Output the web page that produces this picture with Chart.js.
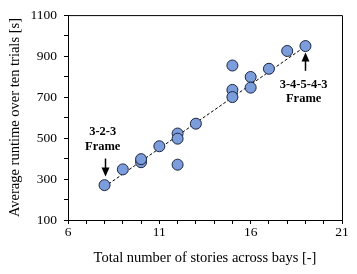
<!DOCTYPE html>
<html><head><meta charset="utf-8">
<script src="https://cdn.jsdelivr.net/npm/chart.js@4"></script>
<style>html,body{margin:0;padding:0;background:#fff}#c{display:block}</style>
</head><body>
<canvas id="c" width="357" height="274"></canvas>
<script>
const stories = [8, 9, 10, 10, 11, 12, 12, 12, 13, 15, 15, 15, 16, 16, 17, 18, 19];
const runtimes = [270, 347, 382, 397, 460, 522, 497, 370, 570, 854, 735, 700, 798, 746, 838, 925, 949];
const trendX = [8, 19];
const trendY = [262, 948];
const xTicks = [6, 11, 16, 21];
const yTicks = [100, 300, 500, 700, 900, 1100];
const notes = [
  {lines: ['3-2-3', 'Frame'], x: 7.9, yText: [529, 457], arrowFrom: 400, arrowTo: 312, arrowX: 8},
  {lines: ['3-4-5-4-3', 'Frame'], x: 18.9, yText: [762, 690], arrowFrom: 828, arrowTo: 918, arrowX: 19}
];

const pts = stories.map((s, i) => ({x: s, y: runtimes[i]}));
const trend = trendX.map((s, i) => ({x: s, y: trendY[i]}));

const framePlugin = {
  id: 'frame',
  afterDraw(chart) {
    const {ctx, chartArea: a, scales} = chart;
    ctx.save();
    ctx.strokeStyle = '#000';
    ctx.lineWidth = 1;
    ctx.beginPath();
    ctx.moveTo(a.left, a.top + 0.5); ctx.lineTo(a.right + 0.5, a.top + 0.5); ctx.lineTo(a.right + 0.5, a.bottom);
    ctx.stroke();
    ctx.fillStyle = '#000';
    ctx.font = 'bold 12.5px "Liberation Serif"';
    ctx.textAlign = 'center';
    ctx.textBaseline = 'middle';
    notes.forEach(n => {
      const px = scales.x.getPixelForValue(n.x);
      n.lines.forEach((t, i) => ctx.fillText(t, px, scales.y.getPixelForValue(n.yText[i])));
      const ax = Math.round(scales.x.getPixelForValue(n.arrowX)) + 0.5;
      const y1 = scales.y.getPixelForValue(n.arrowFrom);
      const y2 = scales.y.getPixelForValue(n.arrowTo);
      const dir = y2 > y1 ? 1 : -1;
      ctx.beginPath();
      ctx.moveTo(ax, y1); ctx.lineTo(ax, y2 - dir * 6);
      ctx.lineWidth = 1.5;
      ctx.stroke();
      ctx.beginPath();
      ctx.moveTo(ax, y2); ctx.lineTo(ax - 4, y2 - dir * 9); ctx.lineTo(ax + 4, y2 - dir * 9);
      ctx.closePath(); ctx.fill();
    });
    ctx.restore();
  }
};

new Chart(document.getElementById('c'), {
  type: 'scatter',
  data: {
    datasets: [
      {
        type: 'line', data: trend, borderColor: '#000', borderWidth: 1, borderDash: [3, 2],
        pointRadius: 0, fill: false, order: 2
      },
      {
        data: pts, backgroundColor: '#7b9ddb', borderColor: '#1c2540', borderWidth: 1,
        pointRadius: 5.5, pointHoverRadius: 5.5, order: 1
      }
    ]
  },
  options: {
    responsive: false, animation: false, devicePixelRatio: 1,
    layout: {padding: {top: 9, right: 15, left: 0, bottom: 0}},
    plugins: {legend: {display: false}, tooltip: {enabled: false}},
    scales: {
      x: {
        type: 'linear', min: 6, max: 21,
        afterFit(s) { s.height = 54; },
        afterBuildTicks(s) { const t = []; for (let v = 6; v <= 21; v++) t.push({value: v}); s.ticks = t; },
        ticks: {
          autoSkip: false, maxRotation: 0, color: '#000', padding: 0,
          font: {family: '"Liberation Serif"', size: 13.5},
          callback: v => xTicks.includes(v) ? String(v) : ''
        },
        grid: {drawOnChartArea: false, drawTicks: true, tickLength: 4, color: '#000'},
        border: {display: true, color: '#000', width: 1},
        title: {display: true, text: 'Total number of stories across bays [-]', color: '#000',
          font: {family: '"Liberation Serif"', size: 14.5}, padding: {top: 0, bottom: 7}}
      },
      y: {
        type: 'linear', min: 100, max: 1100,
        afterFit(s) { s.width = 68; },
        afterBuildTicks(s) { const t = []; for (let v = 100; v <= 1100; v += 100) t.push({value: v}); s.ticks = t; },
        ticks: {
          autoSkip: false, color: '#000', padding: 7,
          font: {family: '"Liberation Serif"', size: 13.5},
          callback: v => yTicks.includes(v) ? String(v) : ''
        },
        grid: {drawOnChartArea: false, drawTicks: true, tickLength: 4, color: '#000'},
        border: {display: true, color: '#000', width: 1},
        title: {display: true, text: 'Average runtime over ten trials [s]', color: '#000',
          font: {family: '"Liberation Serif"', size: 14.5}, padding: {top: 6, bottom: 0}}
      }
    }
  },
  plugins: [framePlugin]
});
</script>
</body></html>
